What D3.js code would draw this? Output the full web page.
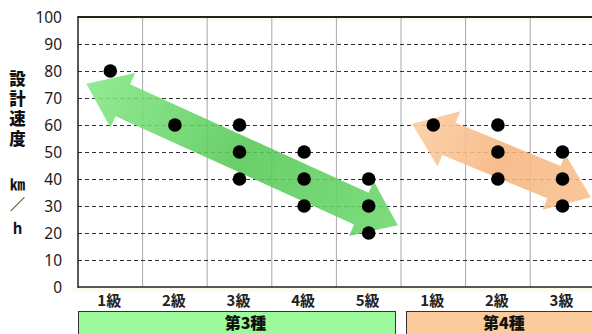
<!DOCTYPE html>
<html>
<head>
<meta charset="utf-8">
<script src="https://cdn.jsdelivr.net/npm/d3@7"></script>
<style>
  html, body { margin: 0; padding: 0; background: #fff; }
  svg { display: block; }
</style>
</head>
<body>
<svg id="chart" width="592" height="334"></svg>
<script>
// Road class / grade categories (left to right)
const grades = ["1級", "2級", "3級", "4級", "5級", "1級", "2級", "3級"];
const classOf = ["第3種", "第3種", "第3種", "第3種", "第3種", "第4種", "第4種", "第4種"];
// Design speeds (km/h) for each grade
const speeds = [[80], [60], [60, 50, 40], [50, 40, 30], [40, 30, 20], [60], [60, 50, 40], [50, 40, 30]];
const yTicks = [0, 10, 20, 30, 40, 50, 60, 70, 80, 90, 100];
const classNames = ["第3種", "第4種"];
const classFills = ["#9cfa9c", "#fccb9c"];
// Trend arrows: ends given as (category position, km/h)
const arrowFrom = [[-0.37, 75.3], [4.67, 60.5]];
const arrowTo = [[4.45, 22.9], [7.44, 33.2]];
const arrowColors = [["#84e884", "#56c956", "#6bd86b"], ["#fccda3", "#f7b57e", "#f9c08e"]];
const yTitle = "設計速度";
const yUnit = ["㎞", "／", "h"];

(function () {
const svg = d3.select("#chart");
const plotLeft = 78, plotTop = 17, plotBottom = 287, bandW = 64.6, W = 592;
const keys = grades.map((g, i) => i);

const x = d3.scaleBand().domain(keys).range([plotLeft, plotLeft + bandW * grades.length]).paddingInner(0).paddingOuter(0);
const y = d3.scaleLinear().domain([0, 100]).range([plotBottom, plotTop]);
// continuous category position -> pixel (0 = centre of first band)
const xc = d3.scaleLinear().domain([0, 1]).range([x(0) + x.bandwidth() / 2, x(1) + x.bandwidth() / 2]);

const defs = svg.append("defs");
defs.append("filter").attr("id", "soft").append("feGaussianBlur").attr("stdDeviation", 0.7);

// faint cream tint along the frame
svg.append("rect").attr("x", plotLeft).attr("y", plotTop).attr("width", W - plotLeft).attr("height", 4).attr("fill", "#fbfbe8");
svg.append("rect").attr("x", plotLeft - 6).attr("y", plotBottom).attr("width", W - plotLeft + 6).attr("height", 5).attr("fill", "#fbfbee");

// vertical grid between categories
svg.append("g").selectAll("line").data(keys.slice(1).concat([grades.length])).join("line")
  .attr("x1", d => plotLeft + d * x.bandwidth()).attr("x2", d => plotLeft + d * x.bandwidth())
  .attr("y1", plotTop).attr("y2", plotBottom)
  .attr("stroke", "#a8a8a8").attr("stroke-width", 1);

// horizontal dashed grid
svg.append("g").selectAll("line").data(yTicks.filter(t => t > 0 && t < 100)).join("line")
  .attr("x1", plotLeft).attr("x2", W)
  .attr("y1", d => Math.round(y(d)) + 0.5).attr("y2", d => Math.round(y(d)) + 0.5)
  .attr("stroke", "#333").attr("stroke-width", 1).attr("stroke-dasharray", "4,3");

// double-headed trend arrows
function arrowPath(a, b) {
  const dx = b[0] - a[0], dy = b[1] - a[1], len = Math.hypot(dx, dy);
  const u = [dx / len, dy / len], n = [-u[1], u[0]];
  const s = 17.5, h = 30, L = 40;
  const P = (base, ua, na) => [base[0] + u[0] * ua + n[0] * na, base[1] + u[1] * ua + n[1] * na];
  const pts = [a, P(a, L, h), P(a, L, s), P(b, -L, s), P(b, -L, h), b, P(b, -L, -h), P(b, -L, -s), P(a, L, -s), P(a, L, -h)];
  return "M" + pts.map(p => p.join(",")).join("L") + "Z";
}
arrowFrom.forEach((f, i) => {
  const a = [xc(f[0]), y(f[1])], b = [xc(arrowTo[i][0]), y(arrowTo[i][1])];
  const g = defs.append("linearGradient").attr("id", "ag" + i)
    .attr("gradientUnits", "userSpaceOnUse")
    .attr("x1", a[0]).attr("y1", a[1]).attr("x2", b[0]).attr("y2", b[1]);
  arrowColors[i].forEach((c, k) => g.append("stop").attr("offset", k / 2).attr("stop-color", c));
  svg.append("path").attr("d", arrowPath(a, b))
    .attr("fill", "url(#ag" + i + ")").attr("opacity", 0.88).attr("filter", "url(#soft)");
});

// frame
svg.append("line").attr("x1", plotLeft).attr("x2", W).attr("y1", plotTop).attr("y2", plotTop).attr("stroke", "#222").attr("stroke-width", 2);
svg.append("line").attr("x1", plotLeft).attr("x2", plotLeft).attr("y1", plotTop - 1).attr("y2", plotBottom + 1).attr("stroke", "#222").attr("stroke-width", 1.5);
svg.append("line").attr("x1", plotLeft).attr("x2", W).attr("y1", plotBottom).attr("y2", plotBottom).attr("stroke", "#222").attr("stroke-width", 1.5);

// points
const pts = [];
speeds.forEach((vs, i) => vs.forEach(v => pts.push({ i, v })));
svg.append("g").selectAll("circle").data(pts).join("circle")
  .attr("cx", d => x(d.i) + x.bandwidth() / 2).attr("cy", d => y(d.v))
  .attr("r", 6.8).attr("fill", "#000");

// y tick labels
svg.append("g").selectAll("text").data(yTicks).join("text")
  .attr("x", 62).attr("y", d => y(d)).attr("dy", "0.36em")
  .attr("text-anchor", "end")
  .attr("font-family", "'Noto Sans', 'DejaVu Sans', sans-serif").attr("font-size", 15.5)
  .attr("fill", "#1a1a1a").text(d => d);

// y axis title, written vertically
svg.append("text")
  .attr("x", 17.5).attr("y", 70)
  .attr("writing-mode", "vertical-rl")
  .style("text-orientation", "upright")
  .attr("letter-spacing", 3.5)
  .attr("font-family", "'Noto Sans CJK JP', sans-serif").attr("font-weight", "900")
  .attr("font-size", 16.5).attr("fill", "#111").text(yTitle);

// unit, stacked under the title
const unitY = [185, 205, 229];
svg.append("g").selectAll("text").data(yUnit).join("text")
  .attr("x", 17.5).attr("y", (d, i) => unitY[i]).attr("dy", "0.36em")
  .attr("text-anchor", "middle")
  .attr("font-family", "'Noto Sans CJK JP', sans-serif").attr("font-weight", "bold")
  .attr("font-size", 15).attr("fill", "#111").text(d => d);

// x category labels
svg.append("g").selectAll("text").data(keys).join("text")
  .attr("x", d => x(d) + x.bandwidth() / 2 - 1).attr("y", 301).attr("dy", "0.36em")
  .attr("text-anchor", "middle")
  .attr("font-family", "'Noto Sans CJK JP', sans-serif").attr("font-weight", "bold")
  .attr("font-size", 15).attr("fill", "#222").text(d => grades[d]);

// class boxes below the axis
classNames.forEach((c, k) => {
  const idx = keys.filter(i => classOf[i] === c);
  const x0 = x(idx[0]) + (k === 0 ? 0 : 5);
  const x1 = x(idx[idx.length - 1]) + x.bandwidth() - (k === classNames.length - 1 ? -12 : 6);
  svg.append("rect").attr("x", x0 + 0.5).attr("y", 311.5).attr("width", x1 - x0).attr("height", 30)
    .attr("fill", classFills[k]).attr("stroke", "#333").attr("stroke-width", 1);
  const mid = idx[Math.floor(idx.length / 2)];
  svg.append("text").attr("x", x(mid) + x.bandwidth() / 2 + 6).attr("y", 323.5).attr("dy", "0.36em")
    .attr("text-anchor", "middle")
    .attr("font-family", "'Noto Sans CJK JP', sans-serif").attr("font-weight", "900")
    .attr("font-size", 16).attr("fill", "#111").text(c);
});
})();
</script>
</body>
</html>
